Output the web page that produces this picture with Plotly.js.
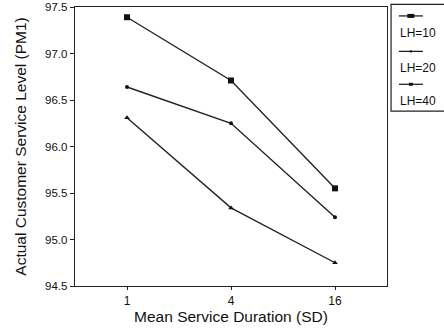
<!DOCTYPE html>
<html>
<head>
<meta charset="utf-8">
<script src="https://cdn.plot.ly/plotly-3.0.1.min.js"></script>
<style>html,body{margin:0;padding:0;background:#fff;}#chart{width:444px;height:328px;}</style>
</head>
<body>
<div id="chart"></div>
<script>
const durations = ['1', '4', '16'];
const seriesNames = ['LH=10', 'LH=20', 'LH=40'];
const lh10 = [97.39, 96.71, 95.55];
const lh20 = [96.64, 96.25, 95.24];
const lh40 = [96.31, 95.34, 94.75];
const yTicks = [94.5, 95.0, 95.5, 96.0, 96.5, 97.0, 97.5];

const lineColor = '#222';
const font = 'Liberation Sans, Arial, sans-serif';

const traces = [
  {x: durations, y: lh10, name: seriesNames[0], mode: 'lines+markers',
   line: {color: lineColor, width: 1.4}, marker: {symbol: 'square', size: 6, color: '#111'}},
  {x: durations, y: lh20, name: seriesNames[1], mode: 'lines+markers',
   line: {color: lineColor, width: 1.4}, marker: {symbol: 'circle', size: 4, color: '#111'}},
  {x: durations, y: lh40, name: seriesNames[2], mode: 'lines+markers',
   line: {color: lineColor, width: 1.4}, marker: {symbol: 'triangle-up', size: 5, color: '#111'}}
];

// custom legend (symbol above text)
const legX0 = 1.013, legX1 = 1.25;
const sampleX0 = 1.038, sampleX1 = 1.115;
const sampleY = [0.968, 0.841, 0.723];
const textY = [0.906, 0.7805, 0.6635];
const shapes = [
  {type: 'rect', xref: 'paper', yref: 'paper', x0: legX0, x1: legX1, y0: 0.6266, y1: 1.0097,
   line: {color: '#222', width: 1.2}, fillcolor: 'rgba(0,0,0,0)'}
];
const annotations = [];
const markerSyms = [
  {w: 7, h: 4}, {w: 2, h: 2}, {w: 4, h: 3}
];
seriesNames.forEach((n, i) => {
  shapes.push({type: 'line', xref: 'paper', yref: 'paper', x0: sampleX0, x1: sampleX1,
    y0: sampleY[i], y1: sampleY[i], line: {color: '#111', width: 1.2}});
  const xm = (sampleX0 + sampleX1) / 2;
  shapes.push({type: 'rect', xref: 'paper', yref: 'paper', xsizemode: 'pixel', ysizemode: 'pixel',
    xanchor: xm, yanchor: sampleY[i],
    x0: -markerSyms[i].w / 2, x1: markerSyms[i].w / 2, y0: -markerSyms[i].h / 2, y1: markerSyms[i].h / 2,
    line: {width: 0}, fillcolor: '#111'});
  annotations.push({xref: 'paper', yref: 'paper', x: 1.034, y: textY[i], xanchor: 'left', yanchor: 'middle',
    text: n, showarrow: false, font: {family: font, size: 12, color: '#111'}});
});

const layout = {
  width: 444, height: 328,
  margin: {l: 75, r: 57, t: 7, b: 42, pad: 0},
  paper_bgcolor: '#fff', plot_bgcolor: '#fff',
  showlegend: false,
  font: {family: font, color: '#111'},
  xaxis: {
    type: 'category', range: [-0.5, 2.5],
    showline: true, linecolor: '#222', linewidth: 1.3, mirror: true,
    ticks: 'outside', ticklen: 3, tickcolor: '#222', showgrid: false, zeroline: false,
    tickfont: {size: 12, family: font, color: '#111'},
    title: {text: 'Mean Service Duration (SD)', font: {size: 15.5, family: font, color: '#111'}, standoff: 2}
  },
  yaxis: {
    range: [94.5, 97.5], tickvals: yTicks, ticktext: yTicks.map(v => v.toFixed(1)),
    showline: true, linecolor: '#222', linewidth: 1.3, mirror: true,
    ticks: 'outside', ticklen: 4, tickcolor: '#222', showgrid: false, zeroline: false,
    tickfont: {size: 11.5, family: font, color: '#111'},
    title: {text: 'Actual Customer Service Level (PM1)', font: {size: 15.5, family: font, color: '#111'}, standoff: 14}
  },
  shapes: shapes,
  annotations: annotations
};

Plotly.newPlot('chart', traces, layout, {displayModeBar: false, staticPlot: true});
</script>
</body>
</html>
